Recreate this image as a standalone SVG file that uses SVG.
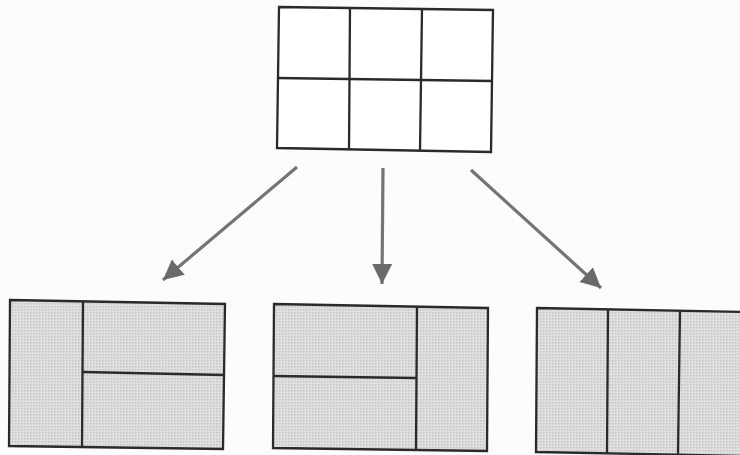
<svg xmlns="http://www.w3.org/2000/svg" width="740" height="455" viewBox="0 0 740 455">
  <style>
    .frame { stroke: #2a2a2a; stroke-width: 2.3; stroke-linejoin: miter; }
    .blank { fill: #ffffff; }
    .shaded { fill: url(#screen); }
    .cut { stroke: #2a2a2a; stroke-width: 2.3; fill: none; }
    .arrow { stroke: #747474; stroke-width: 3.2; fill: none; marker-end: url(#head); }
  </style>
  <defs>
    <!-- halftone-like grey tone for the partitioned grids -->
    <pattern id="screen" width="3" height="3" patternUnits="userSpaceOnUse">
      <rect width="3" height="3" fill="#e0e0e0"/>
      <rect width="1.5" height="1.5" fill="#c4c4c4"/>
    </pattern>
    <marker id="head" markerUnits="userSpaceOnUse" markerWidth="21" markerHeight="22" refX="20" refY="11" orient="auto">
      <path d="M0,1 L20,11 L0,21 Z" fill="#6a6a6a"/>
    </marker>
  </defs>

  <rect width="740" height="455" fill="#fcfcfc"/>

  <!-- 2x3 source grid -->
  <g id="grid-source">
    <polygon class="frame blank" points="279,7 493,10 491,152 277,148"/>
    <line class="cut" x1="277" y1="78" x2="492" y2="81"/>
    <line class="cut" x1="350" y1="8" x2="349" y2="149"/>
    <line class="cut" x1="422" y1="9" x2="420" y2="151"/>
  </g>

  <!-- partition: left column + two stacked cells -->
  <g id="grid-left">
    <polygon class="frame shaded" points="10,300 225,304 223,449 9,446"/>
    <line class="cut" x1="83" y1="301" x2="82" y2="447"/>
    <line class="cut" x1="83" y1="372" x2="224" y2="375"/>
  </g>

  <!-- partition: two stacked cells + right column -->
  <g id="grid-middle">
    <polygon class="frame shaded" points="274,304 488,308 487,451 273,448"/>
    <line class="cut" x1="417" y1="307" x2="416" y2="450"/>
    <line class="cut" x1="273" y1="376" x2="416" y2="378"/>
  </g>

  <!-- partition: three columns -->
  <g id="grid-right">
    <polygon class="frame shaded" points="537,308 746,312 746,456 536,452"/>
    <line class="cut" x1="608" y1="309" x2="607" y2="453"/>
    <line class="cut" x1="680" y1="310" x2="678" y2="454"/>
  </g>

  <g id="connectors">
    <line class="arrow" x1="297" y1="167" x2="163" y2="280"/>
    <line class="arrow" x1="383" y1="168" x2="382" y2="284"/>
    <line class="arrow" x1="471" y1="170" x2="601" y2="288"/>
  </g>
</svg>
